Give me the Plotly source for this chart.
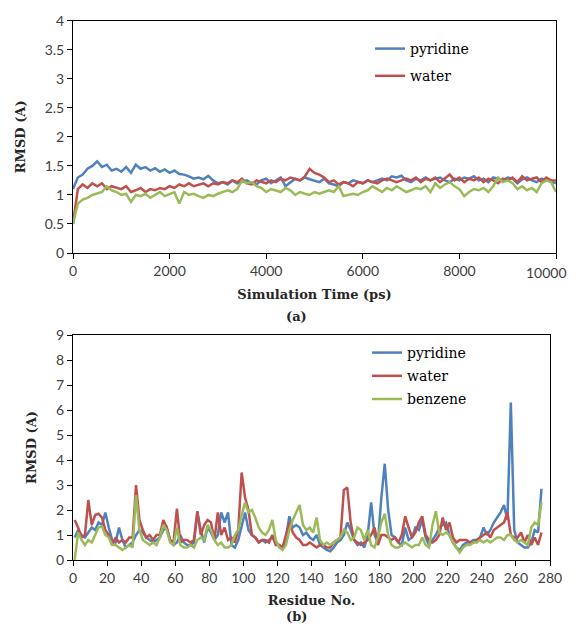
import plotly.graph_objects as go

# ---------------- (a) RMSD vs simulation time ----------------
time_ps = list(range(0, 10001, 100))
time_ticks = [0, 2000, 4000, 6000, 8000, 10000]

pyridine_t = [
    1.10, 1.30, 1.35, 1.45, 1.50, 1.58, 1.48, 1.52, 1.42, 1.45,
    1.40, 1.48, 1.38, 1.52, 1.45, 1.48, 1.42, 1.46, 1.40, 1.44,
    1.38, 1.42, 1.36, 1.35, 1.32, 1.28, 1.30, 1.27, 1.33, 1.25,
    1.20, 1.22, 1.18, 1.25, 1.20, 1.22, 1.25, 1.20, 1.18, 1.25,
    1.28, 1.20, 1.25, 1.30, 1.15, 1.22, 1.28, 1.25, 1.30, 1.27,
    1.25, 1.22, 1.28, 1.20, 1.18, 1.15, 1.22, 1.20, 1.25, 1.22,
    1.20, 1.25, 1.22, 1.25, 1.28, 1.25, 1.32, 1.30, 1.33, 1.25,
    1.22, 1.28, 1.25, 1.30, 1.25, 1.28, 1.30, 1.25, 1.22, 1.28,
    1.25, 1.30, 1.28, 1.32, 1.25, 1.28, 1.22, 1.30, 1.28, 1.25,
    1.30, 1.28, 1.20, 1.27, 1.30, 1.25, 1.22, 1.28, 1.25, 1.22,
    1.20,
]
water_t = [
    0.50, 1.10, 1.18, 1.12, 1.20, 1.15, 1.20, 1.10, 1.15, 1.12,
    1.10, 1.15, 1.05, 1.08, 1.12, 1.05, 1.10, 1.08, 1.12, 1.10,
    1.15, 1.12, 1.18, 1.15, 1.20, 1.15, 1.18, 1.20, 1.15, 1.20,
    1.18, 1.22, 1.20, 1.25, 1.22, 1.28, 1.20, 1.18, 1.25, 1.22,
    1.20, 1.25, 1.22, 1.28, 1.25, 1.30, 1.28, 1.25, 1.32, 1.45,
    1.38, 1.35, 1.30, 1.22, 1.25, 1.18, 1.22, 1.20, 1.15, 1.22,
    1.20, 1.25, 1.22, 1.20, 1.25, 1.28, 1.25, 1.22, 1.25, 1.28,
    1.25, 1.30, 1.22, 1.28, 1.25, 1.30, 1.22, 1.28, 1.35, 1.25,
    1.30, 1.22, 1.28, 1.25, 1.30, 1.22, 1.28, 1.25, 1.20, 1.28,
    1.25, 1.30, 1.22, 1.32, 1.25, 1.28, 1.30, 1.22, 1.30, 1.25,
    1.25,
]
benzene_t = [
    0.50, 0.85, 0.92, 0.95, 1.00, 1.02, 1.05, 1.15, 1.08, 1.05,
    1.00, 1.02, 0.88, 1.00, 0.98, 1.02, 0.95, 1.00, 1.05, 0.98,
    1.02, 1.05, 0.85, 1.05, 1.00, 1.02, 0.98, 0.95, 1.00, 0.98,
    1.02, 1.05, 1.08, 1.05, 1.10, 1.25, 1.20, 1.22, 1.15, 1.12,
    1.05, 1.10, 1.08, 1.05, 1.12, 1.08, 1.00, 1.05, 1.02, 1.00,
    1.05, 1.02, 1.05, 1.08, 1.05, 1.15, 0.98, 1.00, 1.02, 1.00,
    1.05, 1.08, 1.15, 1.10, 1.05, 1.12, 1.08, 1.15, 1.10, 1.05,
    1.08, 1.12, 1.10, 1.15, 1.05, 1.20, 1.12, 1.18, 1.22, 1.15,
    1.10, 0.98, 1.05, 1.10, 1.08, 1.12, 1.05, 1.15, 1.30, 1.22,
    1.25, 1.20, 1.10, 1.15, 1.08, 1.12, 1.05, 1.20, 1.25, 1.22,
    1.05,
]

# ---------------- (b) RMSD per residue ----------------
residue = list(range(1, 277, 2))

pyridine_r = [
    0.9, 1.2, 1.0, 0.9, 1.1, 1.3, 1.2, 1.5, 1.4, 1.9,
    1.3, 0.8, 0.7, 1.3, 0.8, 0.5, 0.6, 0.7, 1.0, 1.2,
    1.1, 0.9, 0.8, 0.7, 0.8, 0.9, 1.2, 1.3, 0.8, 0.6,
    0.7, 1.0, 0.7, 0.6, 0.6, 0.7, 1.9, 1.2, 0.7, 1.3,
    1.1, 0.8, 1.0, 1.9, 1.5, 1.9, 0.6, 0.5, 0.8, 1.4,
    1.9, 1.2, 1.0, 0.9, 0.7, 0.8, 0.7, 0.8, 0.9, 0.7,
    0.6, 0.5, 0.9, 1.75, 1.3, 1.4, 1.3, 1.0, 1.1, 0.9,
    0.8, 1.0, 0.6, 0.5, 0.4, 0.35, 0.5, 0.7, 0.8, 1.0,
    1.5, 1.2, 0.8, 0.6, 0.7, 0.5, 1.0, 2.3, 1.0, 0.7,
    2.5, 3.85, 2.0, 1.0, 0.9, 0.7, 0.6, 1.3, 0.8, 0.9,
    1.3, 1.2, 1.6, 0.9, 0.6, 0.8, 1.0, 1.3, 1.4, 1.5,
    1.0, 0.7, 0.5, 0.4, 0.6, 0.7, 0.7, 0.8, 0.8, 0.9,
    1.3, 1.0, 1.2, 1.5, 1.7, 1.9, 2.2, 1.6, 6.3, 1.2,
    0.7, 0.6, 0.5, 0.5, 0.7, 1.2, 1.1, 2.85,
]
water_r = [
    1.6, 1.3, 0.9, 1.0, 2.4, 1.4, 1.8, 1.85, 1.7, 1.2,
    1.0, 0.6, 0.9, 0.7, 0.8, 0.7, 0.9, 0.9, 3.0, 1.6,
    1.2, 0.9, 1.0, 0.8, 1.0, 1.0, 1.6, 1.3, 0.8, 0.7,
    2.05, 0.7, 0.8, 0.8, 0.7, 0.8, 1.95, 1.0, 1.4, 1.6,
    1.5, 0.8, 1.9, 1.0, 1.3, 0.8, 0.9, 0.7, 1.2, 3.5,
    2.5, 2.0, 1.0, 0.9, 0.7, 0.8, 0.8, 0.7, 1.0, 0.6,
    0.6, 0.5, 1.0, 1.5, 1.1, 0.9, 0.8, 0.6, 0.6, 0.7,
    0.6, 0.5, 0.6, 0.6, 0.5, 0.5, 0.7, 0.8, 0.9, 2.8,
    2.9, 1.5, 0.8, 0.7, 0.6, 0.7, 0.8, 1.0, 1.3, 0.6,
    1.0, 1.0, 0.9, 0.8, 0.9, 0.7, 1.0, 1.75, 1.3, 0.9,
    1.1, 1.5, 1.75, 1.0, 0.8, 0.7, 0.8, 1.0, 1.7, 1.2,
    1.5, 0.9, 0.7, 0.8, 0.8, 0.8, 0.7, 0.7, 0.8, 0.9,
    1.0, 1.1, 0.9, 1.2, 1.3, 1.4, 1.5, 1.9, 1.0, 0.9,
    0.9, 1.1, 0.7, 1.0, 0.6, 0.9, 0.6, 1.1,
]
benzene_r = [
    0.0, 1.1, 0.8, 0.6, 0.8, 0.7, 1.0, 1.3, 1.35, 1.0,
    0.9, 0.6, 0.6, 0.5, 0.4, 0.5, 0.6, 0.5, 2.6, 1.2,
    0.8, 0.7, 0.6, 0.7, 0.6, 0.9, 1.4, 1.2, 0.7, 0.6,
    1.3, 0.6, 0.5, 0.5, 0.6, 0.5, 0.8, 0.9, 0.8, 1.4,
    1.2, 0.8, 0.6, 0.7, 0.5, 0.5, 0.6, 1.0, 1.2, 1.8,
    2.3, 1.9, 2.0, 1.7, 1.3, 1.1, 1.0, 1.2, 1.6, 0.8,
    0.5, 0.4, 0.6, 1.2, 1.6, 1.9, 2.2, 1.4, 1.2, 1.3,
    1.1, 1.7, 0.8, 0.6, 0.7, 0.6, 0.7, 0.8, 0.9, 1.2,
    1.1, 0.8, 0.9, 1.3, 1.2, 0.8, 1.2, 0.6, 0.5, 0.9,
    1.5, 1.85, 1.0, 0.6, 0.5, 0.5, 0.6, 0.7, 0.6, 0.5,
    0.6, 0.6, 0.9, 0.6, 0.5, 1.4, 1.95, 1.1, 1.0, 1.1,
    1.0, 0.7, 0.5, 0.3, 0.5, 0.6, 0.6, 0.7, 0.7, 0.8,
    0.7, 0.8, 0.7, 0.8, 0.9, 0.9, 0.8, 1.0, 1.0, 0.8,
    0.7, 0.8, 0.7, 0.6, 1.3, 1.5, 1.4, 2.3,
]

series_names = ["pyridine", "water", "benzene"]
colors = {"pyridine": "#4F81BD", "water": "#C0504D", "benzene": "#9BBB59"}

# page body has an 8px margin: figure is placed at (8, 8) in the window;
# keep the page from overflowing (no scrollbars)
OFF = 8
W, H = 577 - OFF, 632 - 2 * OFF
def px_x(p):
    return (p - OFF) / W
def px_y(p):
    return 1 - (p - OFF) / H

fig = go.Figure()

top_data = {"pyridine": pyridine_t, "water": water_t, "benzene": benzene_t}
for name in series_names:
    fig.add_trace(go.Scatter(
        x=time_ps, y=top_data[name], mode="lines", name=name,
        line=dict(color=colors[name], width=2.5),
        xaxis="x", yaxis="y", legend="legend", legendgroup="a_" + name,
        showlegend=(name != "benzene"),
    ))

bot_data = {"pyridine": pyridine_r, "water": water_r, "benzene": benzene_r}
for name in series_names:
    fig.add_trace(go.Scatter(
        x=residue, y=bot_data[name], mode="lines", name=name,
        line=dict(color=colors[name], width=2.5),
        xaxis="x2", yaxis="y2", legend="legend2", legendgroup="b_" + name,
    ))

tick_font = dict(family="Lato, Open Sans, sans-serif", size=14, color="#404040")
title_font = dict(family="DejaVu Serif, serif", size=13, color="#262626")
axis_common = dict(showline=True, linecolor="#000000", linewidth=1, mirror=True,
                   ticks="outside", ticklen=5, tickcolor="#000000", showgrid=False,
                   zeroline=False, tickfont=tick_font, automargin=False)

# the last time label sits at the very right edge of the window; it is drawn
# as an annotation nudged inside the visible area
time_ticktext = [str(t) for t in time_ticks[:-1]] + [""]

fig.update_layout(
    width=W, height=H,
    margin=dict(l=0, r=0, t=0, b=0, autoexpand=False),
    paper_bgcolor="white", plot_bgcolor="white",
    xaxis=dict(domain=[px_x(73), px_x(556)], range=[0, 10000],
               tickvals=time_ticks, ticktext=time_ticktext, anchor="y",
               title=dict(text="<b>Simulation Time (ps)</b>", font=title_font, standoff=12),
               **axis_common),
    yaxis=dict(domain=[px_y(253), px_y(20.7)], range=[0, 4], dtick=0.5,
               anchor="x",
               title=dict(text="<b>RMSD (A)</b>", font=title_font, standoff=16),
               **axis_common),
    xaxis2=dict(domain=[px_x(73), px_x(550)], range=[0, 280], dtick=20,
                anchor="y2",
                title=dict(text="<b>Residue No.</b>", font=title_font, standoff=11),
                **axis_common),
    yaxis2=dict(domain=[px_y(560), px_y(335)], range=[0, 9], dtick=1,
                anchor="x2",
                title=dict(text="<b>RMSD (A)</b>", font=title_font, standoff=16),
                **axis_common),
    legend=dict(x=px_x(370), y=px_y(33), xanchor="left", yanchor="top",
                font=dict(family="DejaVu Serif, serif", size=14, color="#000000"),
                bgcolor="rgba(0,0,0,0)", itemwidth=30, tracegroupgap=6),
    legend2=dict(x=px_x(367), y=px_y(337), xanchor="left", yanchor="top",
                 font=dict(family="DejaVu Serif, serif", size=14, color="#000000"),
                 bgcolor="rgba(0,0,0,0)", itemwidth=30, tracegroupgap=2),
    annotations=[
        dict(text=str(time_ticks[-1]), x=px_x(569), y=px_y(272), xref="paper", yref="paper",
             showarrow=False, font=tick_font, xanchor="right", yanchor="middle"),
        dict(text="<b>(a)</b>", x=px_x(296), y=px_y(316), xref="paper", yref="paper",
             showarrow=False, font=title_font, xanchor="center", yanchor="middle"),
        dict(text="<b>(b)</b>", x=px_x(296), y=px_y(616), xref="paper", yref="paper",
             showarrow=False, font=title_font, xanchor="center", yanchor="middle"),
    ],
)

fig.write_html("out.html")
